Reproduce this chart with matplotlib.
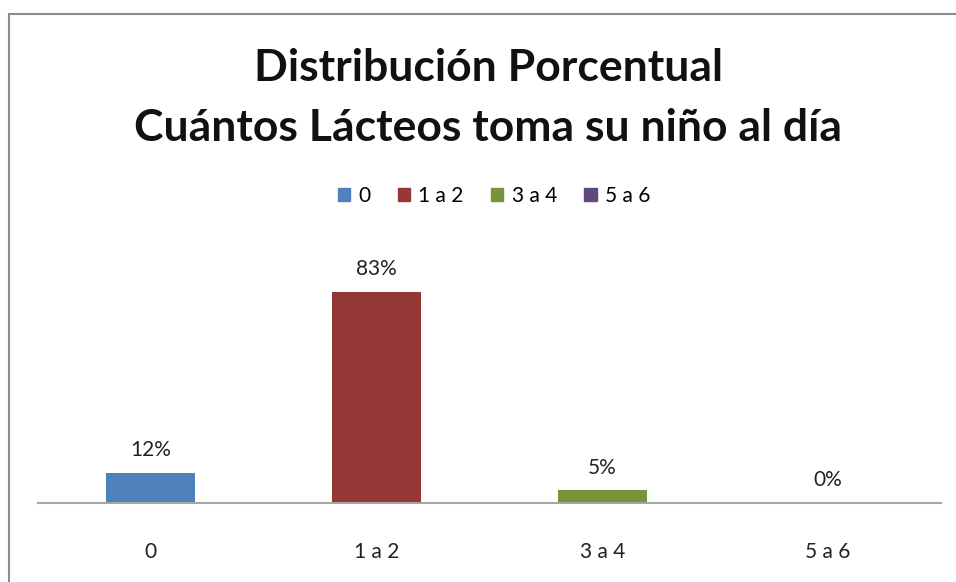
import matplotlib.pyplot as plt
from matplotlib.patches import Rectangle, Patch

categorias = ['0', '1 a 2', '3 a 4', '5 a 6']
porcentajes = [12, 83, 5, 0]
colores = ['#4F81BD', '#953735', '#77933C', '#604A7B']

plt.rcParams['font.family'] = ['Lato', 'DejaVu Sans']

fig = plt.figure(figsize=(9.56, 5.82), dpi=100)
fig.patches.append(Rectangle((9/956, -0.1), 1.2, (582-14)/582 + 0.1,
                             transform=fig.transFigure, fill=False,
                             edgecolor='#8c8c8c', linewidth=1.5))

ax = fig.add_axes([38/956, 79/582, 903/956, 254/582])
x = range(len(categorias))
barras = ax.bar(x, porcentajes, width=0.395, color=colores)
for xi, v in zip(x, porcentajes):
    ax.text(xi, v + 5, f'{v}%', ha='center', va='bottom', fontsize=15, color='#222222')

ax.set_xlim(-0.5, 3.5)
ax.set_ylim(0, 100)
ax.set_xticks(list(x))
ax.set_xticklabels(categorias, fontsize=15, color='#222222')
ax.tick_params(axis='x', length=0, pad=28)
ax.set_yticks([])
for s in ['top', 'right', 'left']:
    ax.spines[s].set_visible(False)
ax.spines['bottom'].set_color('#a6a6a6')
ax.spines['bottom'].set_linewidth(1.5)

fig.text(488/956, 1 - 68/582, 'Distribución Porcentual', ha='center', va='center',
         fontsize=32, fontweight='bold', color='#111111')
fig.text(488/956, 1 - 128/582, 'Cuántos Lácteos toma su niño al día', ha='center', va='center',
         fontsize=32, fontweight='bold', color='#111111')

handles = [Patch(color=c, label=l) for c, l in zip(colores, categorias)]
fig.legend(handles=handles, loc='center', bbox_to_anchor=(494/956, 1 - 196/582), ncol=4,
           frameon=False, fontsize=15, handlelength=0.6, handleheight=0.6,
           handletextpad=0.4, columnspacing=1.3)

fig.savefig('out.png', dpi=100)
